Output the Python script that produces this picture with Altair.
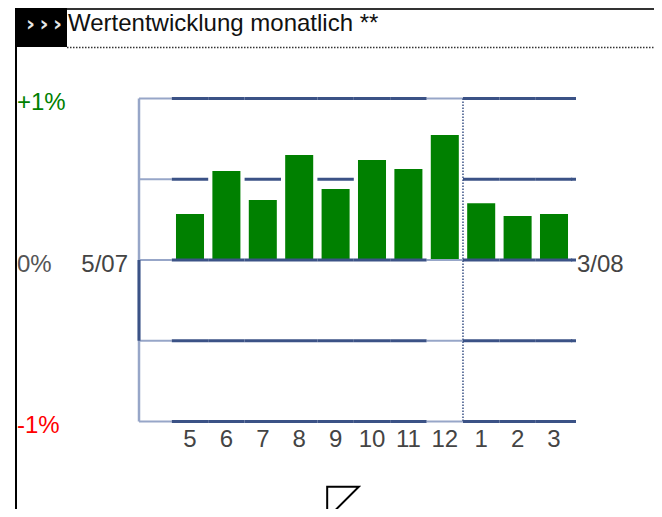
import altair as alt
import pandas as pd

# ---- data ----
months = ["5", "6", "7", "8", "9", "10", "11", "12", "1", "2", "3"]
values = [0.285, 0.551, 0.372, 0.650, 0.440, 0.619, 0.563, 0.774, 0.351, 0.272, 0.285]
grid_levels = [1, 0.5, 0, -0.5, -1]
y_label_levels = [1, 0, -1]
y_label_texts = ["+1%", "0%", "-1%"]
y_label_colors = ["#008000", "#555555", "#ff0000"]
period_start = "5/07"
period_end = "3/08"
highlight_month = "12"
year_start_month = "1"
title_text = "Wertentwicklung monatlich **"
chevrons = "\u203a\u2009\u203a\u2009\u203a"

# ---- styling ----
W, H = 437, 323
DARK = "#3b5286"
LIGHT = "#97a6c8"
GREEN = "#008000"
FONT = "Liberation Sans"
FS = 24
STEP = 36.4

bars = pd.DataFrame({"month": months, "value": values})

dark_rows, light_rows = [], []
for lv in grid_levels:
    for m, v in zip(months, values):
        if 0 < lv <= v:
            continue
        if m == highlight_month:
            light_rows.append({"month": m, "level": lv})
        else:
            dark_rows.append({"month": m, "level": lv})
dark_df = pd.DataFrame(dark_rows)
light_df = pd.DataFrame(light_rows)
levels_df = pd.DataFrame({"level": grid_levels})
ylab_df = pd.DataFrame({"level": y_label_levels, "text": y_label_texts, "color": y_label_colors})
one = pd.DataFrame({"k": [0]})

xscale = alt.Scale(domain=months, range=[32.8, 433.2], paddingInner=0.23, paddingOuter=0.115)
yscale = alt.Scale(domain=[-1, 1], nice=False)
xaxis = alt.Axis(title=None, domain=False, ticks=False, tickSize=0, grid=False,
                 labelAngle=0, labelFont=FONT, labelFontSize=FS, labelColor="#444444",
                 labelPadding=17.5, labelBaseline="middle")


def X():
    return alt.X("month:N", sort=months, scale=xscale, axis=xaxis)


def Y(field="level"):
    return alt.Y(f"{field}:Q", scale=yscale, axis=None)


bar_layer = alt.Chart(bars).mark_bar(color=GREEN).encode(
    x=X(), y=Y("value"), y2=alt.datum(0)
)

light_stub = alt.Chart(levels_df).mark_rule(color=LIGHT, strokeWidth=2).encode(
    x=alt.value(0), x2=alt.value(32.8), y=Y()
)
right_stub = alt.Chart(levels_df).mark_rule(color=DARK, strokeWidth=3).encode(
    x=alt.value(432), x2=alt.value(437), y=Y()
)
light_ticks = alt.Chart(light_df).mark_tick(color=LIGHT, thickness=2, size=STEP, orient="horizontal", opacity=1).encode(
    x=X(), y=Y()
)
dark_ticks = alt.Chart(dark_df).mark_tick(color=DARK, thickness=3, size=STEP, orient="horizontal", opacity=1).encode(
    x=X(), y=Y()
)

axis_light = alt.Chart(one).mark_rule(color=LIGHT, strokeWidth=2.5).encode(
    x=alt.value(0), y=alt.YDatum(1, scale=yscale, axis=None), y2=alt.datum(-1)
)
axis_dark = alt.Chart(one).mark_rule(color=DARK, strokeWidth=3).encode(
    x=alt.value(0), y=alt.YDatum(0, scale=yscale, axis=None), y2=alt.datum(-0.5)
)

year_rule = alt.Chart(one).mark_rule(color=DARK, strokeWidth=1.5, strokeDash=[1.5, 1.5], xOffset=-4.2).encode(
    x=alt.XDatum(year_start_month, bandPosition=0, scale=xscale, axis=xaxis),
    y=alt.YDatum(1, scale=yscale, axis=None), y2=alt.datum(-1)
)

ylabels = alt.Chart(ylab_df).mark_text(align="left", baseline="middle", dy=4.5, font=FONT, fontSize=FS).encode(
    x=alt.value(-122), y=Y(), text="text:N", color=alt.Color("color:N", scale=None)
)
start_lab = alt.Chart(one).mark_text(text=period_start, align="right", baseline="middle", dy=4.5,
                                      font=FONT, fontSize=FS, color="#444444").encode(
    x=alt.value(-11), y=alt.YDatum(0, scale=yscale, axis=None)
)
end_lab = alt.Chart(one).mark_text(text=period_end, align="left", baseline="middle", dy=4.5,
                                    font=FONT, fontSize=FS, color="#444444").encode(
    x=alt.value(438), y=alt.YDatum(0, scale=yscale, axis=None)
)

# ---- header decoration ----
top_line = alt.Chart(one).mark_rule(color="#333333", strokeWidth=2).encode(
    x=alt.value(-124), x2=alt.value(523), y=alt.value(-89.5)
)
black_box = alt.Chart(one).mark_rect(color="black").encode(
    x=alt.value(-124), x2=alt.value(-72), y=alt.value(-95), y2=alt.value(-51.5)
)
chev = alt.Chart(one).mark_text(text=chevrons, font="DejaVu Sans", fontWeight="bold", fontSize=22,
                                color="#e6e6e6", align="center", baseline="middle").encode(
    x=alt.value(-95), y=alt.value(-75)
)
title = alt.Chart(one).mark_text(text=title_text, font=FONT, fontSize=FS, color="#111111",
                                 align="left", baseline="alphabetic").encode(
    x=alt.value(-71), y=alt.value(-68)
)
dotted = alt.Chart(one).mark_rule(color="#333333", strokeWidth=1.5, strokeDash=[1.5, 1.5]).encode(
    x=alt.value(-72), x2=alt.value(523), y=alt.value(-51)
)
left_border = alt.Chart(one).mark_rule(color="black", strokeWidth=2).encode(
    x=alt.value(-123), y=alt.value(-51.5), y2=alt.value(419)
)
corner_icon = alt.Chart(one).mark_point(shape="M -1 -1 L 1 -1 L -1 1 Z", size=1000, filled=False,
                                        color="black", strokeWidth=2, opacity=1).encode(
    x=alt.value(204), y=alt.value(404)
)

chart = alt.layer(
    bar_layer, light_stub, right_stub, light_ticks, dark_ticks, axis_light, axis_dark, year_rule,
    ylabels, start_lab, end_lab,
    top_line, black_box, chev, title, dotted, left_border, corner_icon,
).properties(
    width=W, height=H,
    autosize=alt.AutoSizeParams(type="none"),
    padding={"left": 131, "top": 90.5, "right": 78, "bottom": 87.5},
).configure_view(stroke=None)

chart.save("out.html", embed_options={"renderer": "svg", "actions": False})
